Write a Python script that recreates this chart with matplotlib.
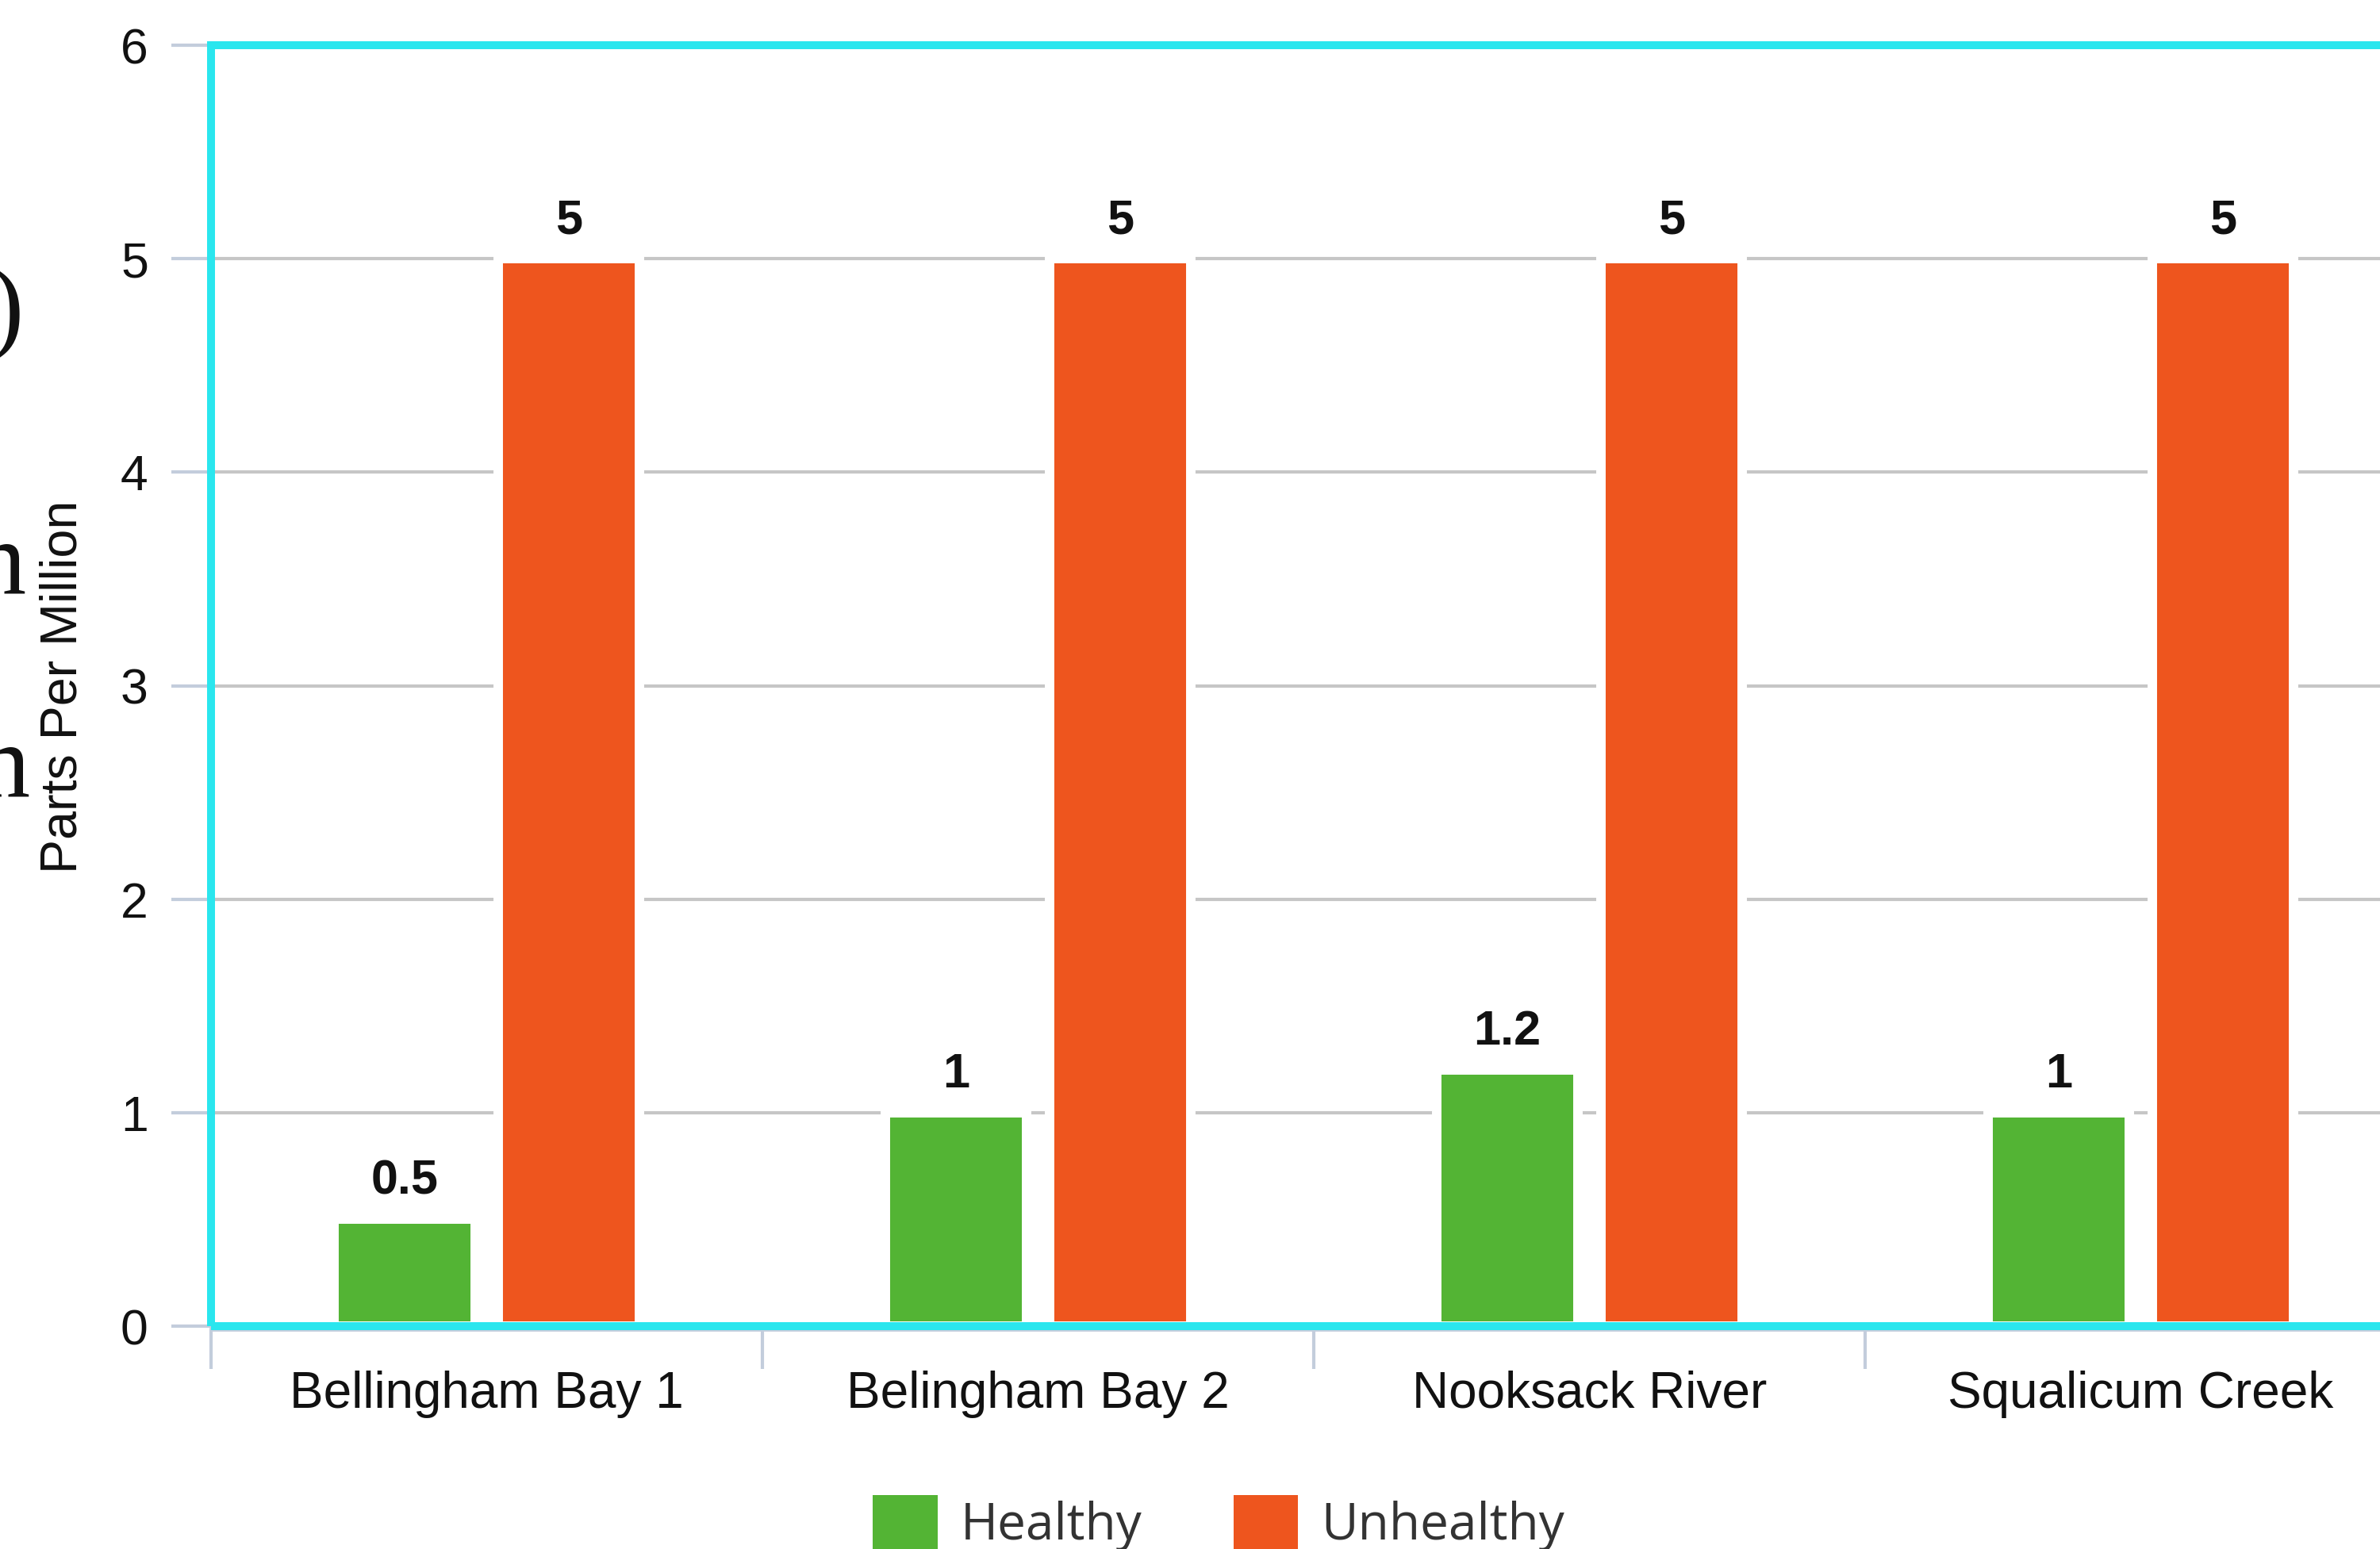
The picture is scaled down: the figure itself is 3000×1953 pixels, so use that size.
import matplotlib
matplotlib.use('Agg')
import matplotlib.pyplot as plt
from matplotlib.patches import Rectangle, Patch

# Datos del gráfico
sitios = ['Bellingham Bay 1', 'Belingham Bay 2', 'Nooksack River', 'Squalicum Creek']
sano = [0.5, 1, 1.2, 1]
no_sano = [5, 5, 5, 5]
series = ['Healthy', 'Unhealthy']
colores = ['#53b434', '#ee551e']
yticks = [0, 1, 2, 3, 4, 5, 6]

plt.rcParams['font.family'] = ['Liberation Sans', 'DejaVu Sans']

W, H = 3000, 1953
fig = plt.figure(figsize=(30, 19.53), dpi=100)
ax = fig.add_axes([266 / W, (H - 1672) / H, 2780 / W, (1672 - 57) / H])

gris_eje = '#c3cddc'
cian = '#2ae6ee'

# Barras
x = list(range(len(sitios)))
desplaz = 0.149
ancho = 0.255
for i, (vals, color) in enumerate(zip([sano, no_sano], colores)):
    pos = [xi + (i * 2 - 1) * desplaz for xi in x]
    ax.bar(pos, vals, width=ancho, color=color, edgecolor='white',
           linewidth=8.6, zorder=3)
    for p, v in zip(pos, vals):
        ax.annotate(f'{v:g}', (p, v), xytext=(0, 23), textcoords='offset points',
                    ha='center', va='baseline', fontsize=44, fontweight='bold',
                    color='#111111', zorder=4)

ax.set_xlim(-0.5, len(sitios) - 0.5)
ax.set_ylim(0, 6)
ax.set_yticks(yticks)
ax.yaxis.grid(True, color='#c6c6c6', linewidth=3)
ax.set_axisbelow(True)

# Ejes y marcas
ax.set_xticks([-0.5 + k for k in range(len(sitios) + 1)])
ax.set_xticklabels([])
ax.set_xticks(x, minor=True)
ax.set_xticklabels(sitios, minor=True)
ax.tick_params(axis='x', which='major', length=36, width=3, color=gris_eje)
ax.tick_params(axis='x', which='minor', length=0, pad=37, labelsize=46,
               labelcolor='#111111')
ax.tick_params(axis='y', length=36, width=3, color=gris_eje, pad=21,
               labelsize=45, labelcolor='#111111')

for lado in ['left', 'top', 'right']:
    ax.spines[lado].set_visible(False)
ax.spines['bottom'].set_color(gris_eje)
ax.spines['bottom'].set_linewidth(3.5)
ax.spines['bottom'].set_position(('outward', 3))

# Marco cian
ax.add_patch(Rectangle((0, 0), 1, 1, transform=ax.transAxes, fill=False,
                       edgecolor=cian, linewidth=7.2, zorder=5, clip_on=False))

fig.text(80 / W, 1 - 866 / H, 'Parts Per Million', rotation=90, fontsize=46.5,
         ha='center', va='center', color='#111111')

# Fragmentos de texto recortados a la izquierda
for txt, xr, yb in [(')', 30, 428), ('n', 33, 748), ('n', 38, 1004)]:
    fig.text(xr / W, 1 - yb / H, txt, family='Liberation Serif', fontsize=94,
             ha='right', va='baseline', color='#111111')

# Leyenda
handles = [Patch(facecolor=c, edgecolor='none') for c in colores]
fig.legend(handles, series, loc='center', bbox_to_anchor=(0.512, 0.0165),
           ncol=2, frameon=False, prop={'family': 'Open Sans', 'size': 46},
           handlelength=1.28, handleheight=1.28, handletextpad=0.45,
           columnspacing=1.8, labelcolor='#333333')

fig.savefig('out.png', dpi=100)
